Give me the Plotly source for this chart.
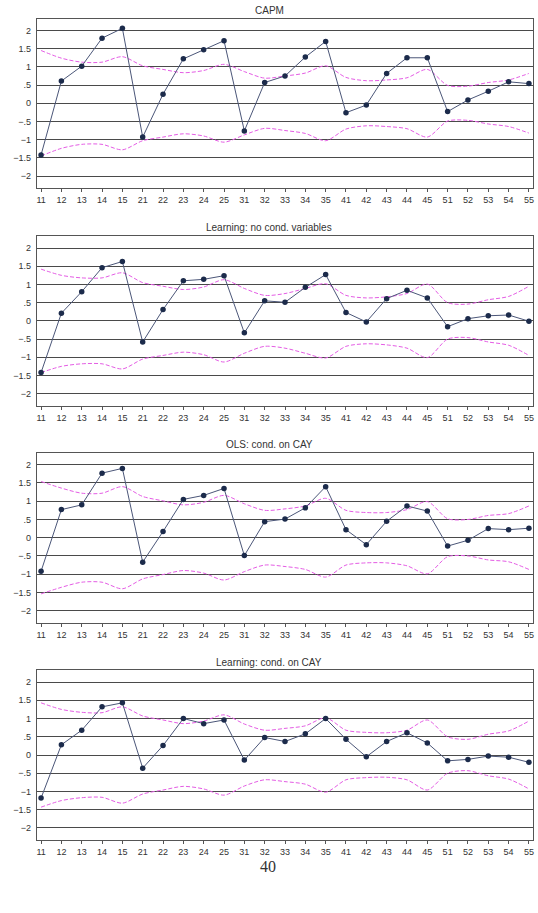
import plotly.graph_objects as go

categories = ["11","12","13","14","15","21","22","23","24","25","31","32","33","34","35",
              "41","42","43","44","45","51","52","53","54","55"]
titles = ["CAPM", "Learning: no cond. variables", "OLS: cond. on CAY", "Learning: cond. on CAY"]

capm_vals = [-1.42, 0.61, 1.02, 1.79, 2.06, -0.93, 0.25, 1.22, 1.47, 1.72, -0.76, 0.57,
             0.75, 1.27, 1.70, -0.26, -0.05, 0.82, 1.25, 1.25, -0.23, 0.09, 0.33, 0.59, 0.54]
capm_band = [1.45, 1.24, 1.13, 1.13, 1.28, 1.03, 0.93, 0.84, 0.90, 1.07, 0.87, 0.69,
             0.75, 0.83, 1.03, 0.71, 0.62, 0.64, 0.70, 0.93, 0.49, 0.47, 0.57, 0.64, 0.82]

learn_vals = [-1.42, 0.21, 0.80, 1.46, 1.63, -0.58, 0.31, 1.10, 1.14, 1.24, -0.33, 0.55,
              0.51, 0.92, 1.27, 0.23, -0.03, 0.61, 0.84, 0.63, -0.16, 0.06, 0.14, 0.16, -0.01]
learn_band = [1.42, 1.25, 1.18, 1.18, 1.32, 1.05, 0.95, 0.86, 0.93, 1.13, 0.89, 0.70,
              0.75, 0.89, 1.02, 0.70, 0.63, 0.66, 0.75, 1.01, 0.50, 0.46, 0.58, 0.67, 0.95]

ols_vals = [-0.92, 0.77, 0.90, 1.77, 1.90, -0.67, 0.17, 1.05, 1.16, 1.35, -0.49, 0.44,
            0.51, 0.82, 1.40, 0.22, -0.19, 0.45, 0.87, 0.73, -0.23, -0.07, 0.25, 0.22, 0.26]
ols_band = [1.54, 1.36, 1.22, 1.22, 1.40, 1.13, 1.01, 0.90, 0.97, 1.16, 0.93, 0.75,
            0.79, 0.87, 1.08, 0.75, 0.69, 0.69, 0.77, 0.99, 0.52, 0.50, 0.61, 0.66, 0.87]

learncay_vals = [-1.18, 0.28, 0.68, 1.32, 1.43, -0.36, 0.26, 1.00, 0.86, 0.96, -0.14, 0.48,
                 0.37, 0.58, 1.00, 0.43, -0.05, 0.37, 0.61, 0.33, -0.16, -0.12, -0.03, -0.06, -0.20]
learncay_band = [1.43, 1.25, 1.17, 1.16, 1.32, 1.07, 0.96, 0.86, 0.93, 1.10, 0.85, 0.68,
                 0.73, 0.80, 1.02, 0.68, 0.62, 0.61, 0.68, 0.96, 0.50, 0.43, 0.57, 0.66, 0.93]

ytick_vals = [2, 1.5, 1, 0.5, 0, -0.5, -1, -1.5, -2]
ytick_text = ["2", "1.5", "1", ".5", "0", "\u2212.5", "\u22121", "\u22121.5", "\u22122"]

series = [(capm_vals, capm_band), (learn_vals, learn_band),
          (ols_vals, ols_band), (learncay_vals, learncay_band)]

H = 913
W = 538
L, R = 37, 5
boxes = [(18.5, 188), (236, 405.7), (452.7, 622.7), (670, 840)]
title_y = [10.7, 228, 445, 662]

fig = go.Figure()
font = "Liberation Sans, Arial, sans-serif"
tickcol = "#333333"
band_line = dict(color="#e45ce4", width=1, dash="4px,2px", shape="spline", smoothing=0.8)

for i, ((vals, band), (top, bot)) in enumerate(zip(series, boxes)):
    n = i + 1
    xa = "x" if n == 1 else f"x{n}"
    ya = "y" if n == 1 else f"y{n}"
    upper = band
    lower = [-b for b in band]
    fig.add_trace(go.Scatter(x=categories, y=upper, mode="lines", line=band_line,
                             xaxis=xa, yaxis=ya, showlegend=False, hoverinfo="skip"))
    fig.add_trace(go.Scatter(x=categories, y=lower, mode="lines", line=band_line,
                             xaxis=xa, yaxis=ya, showlegend=False, hoverinfo="skip"))
    fig.add_trace(go.Scatter(x=categories, y=vals, mode="lines+markers",
                             line=dict(color="#4b5678", width=1),
                             marker=dict(color="#1c2b4b", size=5.5),
                             xaxis=xa, yaxis=ya, showlegend=False))
    dom = [1 - bot / H, 1 - top / H]
    xkey = "xaxis" if n == 1 else f"xaxis{n}"
    ykey = "yaxis" if n == 1 else f"yaxis{n}"
    fig.layout[xkey] = dict(type="category", range=[-0.2, len(categories) - 0.8],
                            domain=[0, 1], anchor=ya, showgrid=False, zeroline=False,
                            showline=True, linecolor="#555555", linewidth=1.3, mirror=True,
                            ticks="outside", ticklen=3, tickcolor="#555555",
                            tickfont=dict(family=font, size=9, color=tickcol))
    fig.layout[ykey] = dict(range=[-2.33, 2.33], domain=dom, anchor=xa,
                            tickvals=ytick_vals, ticktext=ytick_text,
                            showgrid=True, gridcolor="#4a4a4a", gridwidth=1.2, zeroline=False,
                            showline=True, linecolor="#555555", linewidth=1.3, mirror=True,
                            ticks="", ticklabelstandoff=3,
                            tickfont=dict(family=font, size=9, color=tickcol))
    fig.add_annotation(text=titles[i], xref="paper", yref="paper",
                       x=(269 - L) / (W - L - R), y=1 - title_y[i] / H,
                       xanchor="center", yanchor="middle", showarrow=False,
                       font=dict(family=font, size=10, color="#333333"))

fig.add_annotation(text="40", xref="paper", yref="paper",
                   x=(268 - L) / (W - L - R), y=1 - 866 / H,
                   xanchor="center", yanchor="middle", showarrow=False,
                   font=dict(family="Liberation Serif, DejaVu Serif, serif", size=16, color="#333333"))

fig.update_layout(width=W, height=H, margin=dict(l=L, r=R, t=0, b=0),
                  paper_bgcolor="white", plot_bgcolor="white")

fig.write_html("out.html")
